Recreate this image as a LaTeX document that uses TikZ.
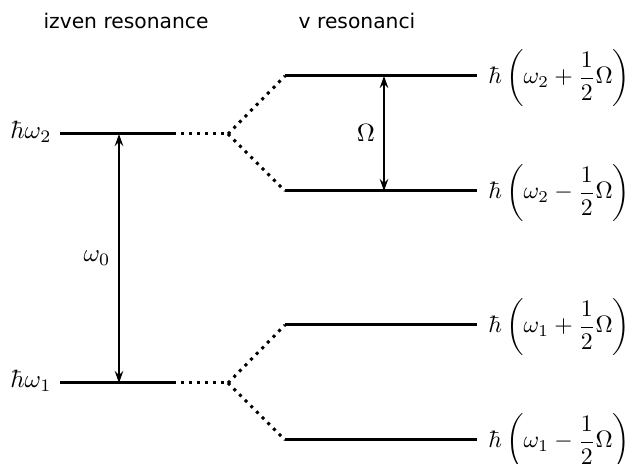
\documentclass[tikz,border=0pt]{standalone}
\usepackage{fontspec}
\newfontfamily\titlefont{DejaVu Sans}
\usetikzlibrary{arrows.meta}
\begin{document}
\begin{tikzpicture}[x=0.4pt,y=-0.4pt,
  level/.style={line width=1.2pt},
  link/.style={line width=1.2pt, dotted},
  gap/.style={line width=0.6pt, {Stealth[length=4.8pt,width=3.4pt,inset=1.6pt]}-{Stealth[length=4.8pt,width=3.4pt,inset=1.6pt]}},
  title/.style={font=\titlefont\fontsize{8.1}{9.5}\selectfont},
  energy/.style={anchor=west, inner sep=0pt, scale=0.95, transform shape}]
\useasboundingbox (0,0) rectangle (626,464);
% titles
\node[title] (t1) at (126,21) {izven resonance};
\node[title] (t2) at (357,21) {v resonanci};
% coordinates
\coordinate (a2l) at (60,134);  \coordinate (a2r) at (173,134); \coordinate (b2) at (228,134);
\coordinate (a1l) at (60,383);  \coordinate (a1r) at (173,383); \coordinate (b1) at (228,383);
\coordinate (c4l) at (285,76);  \coordinate (c4r) at (477,76);
\coordinate (c3l) at (285,191); \coordinate (c3r) at (477,191);
\coordinate (c2l) at (285,325); \coordinate (c2r) at (477,325);
\coordinate (c1l) at (285,440); \coordinate (c1r) at (477,440);
% levels
\draw[level] (a2l) -- (a2r);
\draw[level] (a1l) -- (a1r);
\draw[level] (c4l) -- (c4r);
\draw[level] (c3l) -- (c3r);
\draw[level] (c2l) -- (c2r);
\draw[level] (c1l) -- (c1r);
% dotted links
\draw[link] (a2r) -- (b2);
\draw[link] (b2) -- (c4l);
\draw[link] (b2) -- (c3l);
\draw[link] (a1r) -- (b1);
\draw[link] (b1) -- (c2l);
\draw[link] (b1) -- (c1l);
% gaps
\coordinate (w0t) at (119,134); \coordinate (w0b) at (119,383);
\draw[gap] (w0t) -- (w0b);
\node (lw0) at (97,258) {$\omega_0$};
\coordinate (Ot) at (384,76); \coordinate (Ob) at (384,191);
\draw[gap] (Ot) -- (Ob);
\node (lO) at (366,133) {$\Omega$};
% left labels
\node[anchor=base east, inner sep=0pt] (l2) at (52,139) {$\hbar\omega_2$};
\node[anchor=base east, inner sep=0pt] (l1) at (52,388) {$\hbar\omega_1$};
% right labels
\node[energy] (e4) at (488,78) {$\displaystyle\hbar\left(\omega_2+\frac{1}{2}\Omega\right)$};
\node[energy] (e3) at (488,193) {$\displaystyle\hbar\left(\omega_2-\frac{1}{2}\Omega\right)$};
\node[energy] (e2) at (488,327) {$\displaystyle\hbar\left(\omega_1+\frac{1}{2}\Omega\right)$};
\node[energy] (e1) at (488,442) {$\displaystyle\hbar\left(\omega_1-\frac{1}{2}\Omega\right)$};
\end{tikzpicture}
\end{document}
